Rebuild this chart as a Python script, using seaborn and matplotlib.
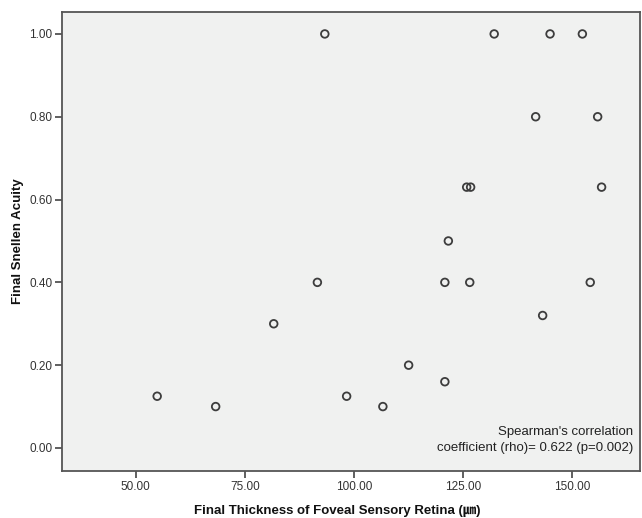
import matplotlib
matplotlib.use("Agg")
import matplotlib.pyplot as plt
import seaborn as sns
import pandas as pd

thickness = [93.3, 132.1, 144.9, 152.3, 141.6, 155.8, 125.8, 126.7, 156.7, 121.6,
             91.6, 120.8, 126.5, 154.1, 143.2, 81.6, 112.5, 120.8, 54.9, 98.3, 68.3, 106.6]
acuity = [1.00, 1.00, 1.00, 1.00, 0.80, 0.80, 0.63, 0.63, 0.63, 0.50,
          0.40, 0.40, 0.40, 0.40, 0.32, 0.30, 0.20, 0.16, 0.125, 0.125, 0.10, 0.10]
x_ticks = [50, 75, 100, 125, 150]
y_ticks = [0.0, 0.2, 0.4, 0.6, 0.8, 1.0]

df = pd.DataFrame({"thickness": thickness, "acuity": acuity})

sns.set_style("ticks")
plt.rcParams['font.family'] = ['Liberation Sans', 'Noto Sans CJK KR', 'DejaVu Sans']

fig = plt.figure(figsize=(6.42, 5.18), dpi=100)
ax = fig.add_axes([62/642, 47/518, (640-62)/642, (471-12)/518])
ax.set_facecolor("#f0f1f0")

sns.scatterplot(data=df, x="thickness", y="acuity", ax=ax, marker="o", s=30,
                facecolor="none", edgecolor="#3d3d3d", linewidth=1.3)

ax.set_xlim(33.1, 165.5)
ax.set_ylim(-0.0556, 1.053)
ax.set_xticks(x_ticks)
ax.set_xticklabels([f"{v:.2f}" for v in x_ticks])
ax.set_yticks(y_ticks)
ax.set_yticklabels([f"{v:.2f}" for v in y_ticks])
ax.tick_params(axis="both", direction="out", length=5, width=1.2, color="#444444",
               labelsize=8.5, labelcolor="#333333", pad=2)
for sp in ax.spines.values():
    sp.set_color("#555555")
    sp.set_linewidth(1.3)

ax.set_xlabel("Final Thickness of Foveal Sensory Retina (㎛)", fontsize=9.5,
              fontweight="bold", color="#111111")
ax.set_ylabel("Final Snellen Acuity", fontsize=9.5, fontweight="bold", color="#111111")
ax.xaxis.set_label_coords(0.476, -0.075)
ax.yaxis.set_label_coords(-0.066, 0.5)

ax.text(0.988, 0.038, "Spearman's correlation\ncoefficient (rho)= 0.622 (p=0.002)",
        transform=ax.transAxes, ha="right", va="bottom", fontsize=9.5,
        color="#222222", linespacing=1.35)

fig.savefig("out.png", dpi=100, facecolor="white")
